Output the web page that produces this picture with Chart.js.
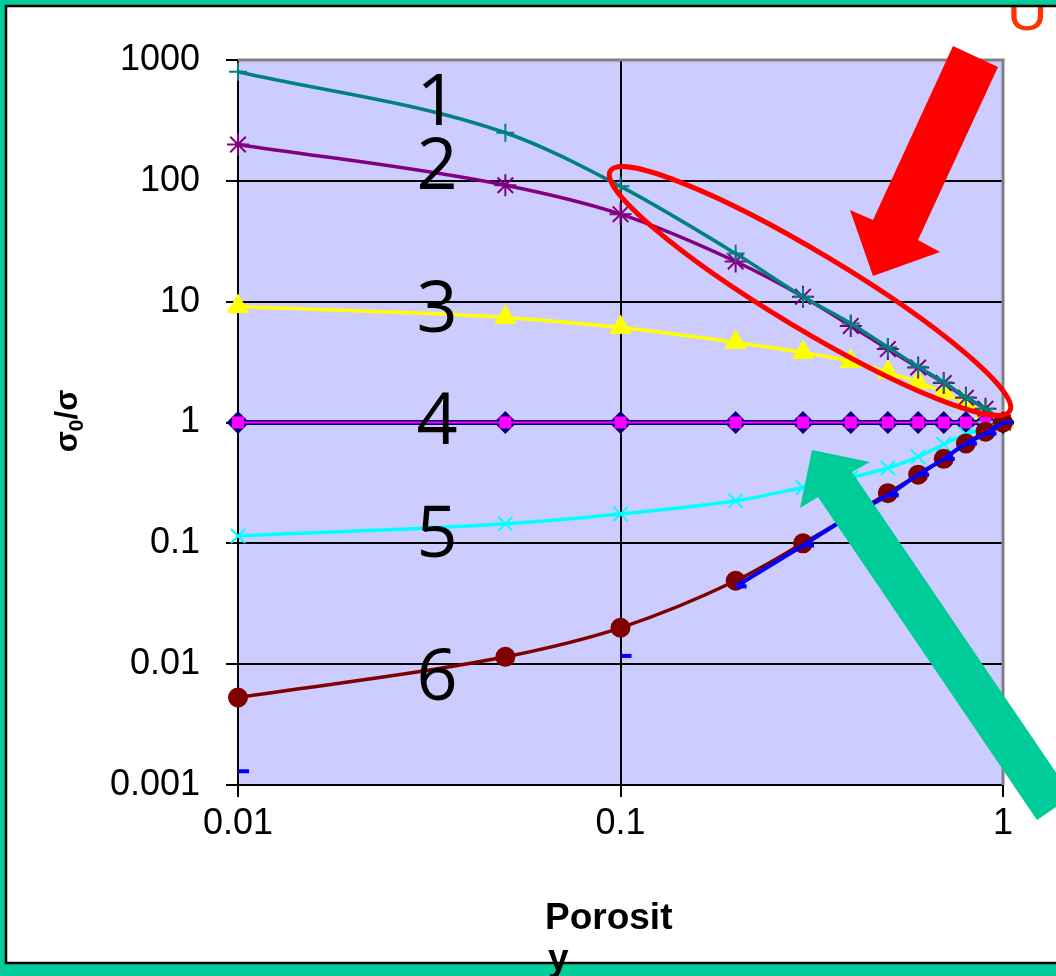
<!DOCTYPE html>
<html>
<head>
<meta charset="utf-8">
<script src="https://cdn.jsdelivr.net/npm/chart.js@4.4.1/dist/chart.umd.min.js"></script>
<style>
  html, body { margin: 0; padding: 0; background: #00CC99; }
  canvas { display: block; }
</style>
</head>
<body>
<canvas id="porosityChart" width="1056" height="976"></canvas>
<script>
// values
const porosity = [0.01, 0.05, 0.1, 0.2, 0.3, 0.4, 0.5, 0.6, 0.7, 0.8, 0.9, 1.0];
const curve1 = [800, 250, 90, 25, 11, 6.6, 4.2, 2.9, 2.15, 1.62, 1.3, 1];
const curve2 = [200, 92, 53, 21.5, 11, 6.3, 4.05, 2.85, 2.12, 1.6, 1.3, 1];
const curve3 = [9.1, 7.4, 6.1, 4.6, 3.8, 3.2, 2.6, 2.15, 1.77, 1.45, 1.2, 1];
const curve4a = [1, 1, 1, 1, 1, 1, 1, 1, 1, 1, 1, 1];
const curve4b = [1, 1, 1, 1, 1, 1, 1, 1, 1, 1, 1, 1];
const curve5 = [0.115, 0.145, 0.175, 0.225, 0.29, 0.35, 0.42, 0.52, 0.66, 0.8, 0.9, 1];
const curve6 = [0.0053, 0.0115, 0.02, 0.049, 0.1, 0.17, 0.26, 0.37, 0.5, 0.67, 0.84, 1];
const curve7 = [0.0013, null, 0.0117, 0.044, 0.096, 0.17, 0.25, 0.37, 0.5, 0.67, 0.81, 1];

const xTicks = [0.01, 0.1, 1];
const yTicks = [0.001, 0.01, 0.1, 1, 10, 100, 1000];
const curveLabels = ['1', '2', '3', '4', '5', '6'];

const tickFont = { family: '"Liberation Sans", Arial, sans-serif', size: 36 };

function pts(arr) {
    return porosity.map((x, i) => ({ x: x, y: arr[i] }));
}

function series(arr, color, style, radius, opts) {
    return Object.assign({
        data: pts(arr),
        borderColor: color,
        backgroundColor: color,
        pointStyle: style,
        pointRadius: radius,
        pointBorderColor: color,
        pointBackgroundColor: color,
        pointBorderWidth: 2,
        borderWidth: 3.5,
        cubicInterpolationMode: 'monotone',
        spanGaps: false,
        clip: false
    }, opts || {});
}

function polygon(ctx, points, color) {
    ctx.beginPath();
    ctx.moveTo(points[0][0], points[0][1]);
    for (let i = 1; i < points.length; i++) ctx.lineTo(points[i][0], points[i][1]);
    ctx.closePath();
    ctx.fillStyle = color;
    ctx.fill();
}

const slidePlugin = {
    id: 'slide',
    beforeDraw(chart) {
        const ctx = chart.ctx;
        const a = chart.chartArea;
        ctx.save();
        ctx.fillStyle = '#00CC99';
        ctx.fillRect(0, 0, chart.width, chart.height);
        ctx.fillStyle = '#FFFFFF';
        ctx.fillRect(6, 6, chart.width, 957);
        // clipped letter at the top right corner
        ctx.save();
        ctx.beginPath();
        ctx.rect(6, 6, chart.width, 957);
        ctx.clip();
        ctx.fillStyle = '#FF3300';
        ctx.font = '56px "Liberation Sans", Arial, sans-serif';
        ctx.textAlign = 'left';
        ctx.textBaseline = 'alphabetic';
        ctx.fillText('U', 1007, 30);
        ctx.restore();
        ctx.strokeStyle = '#000000';
        ctx.lineWidth = 2.5;
        ctx.strokeRect(6, 6, chart.width + 10, 957);
        ctx.fillStyle = '#CCCCFF';
        ctx.fillRect(a.left, a.top, a.right - a.left, a.bottom - a.top);
        ctx.restore();
    },
    beforeDatasetsDraw(chart) {
        const ctx = chart.ctx;
        const a = chart.chartArea;
        ctx.save();
        ctx.strokeStyle = '#808080';
        ctx.lineWidth = 3;
        ctx.beginPath();
        ctx.moveTo(a.left, a.top);
        ctx.lineTo(a.right, a.top);
        ctx.lineTo(a.right, a.bottom);
        ctx.stroke();
        ctx.restore();
    },
    afterDraw(chart) {
        const ctx = chart.ctx;
        ctx.save();

        // curve numbers
        ctx.fillStyle = '#000000';
        ctx.font = '72px "Open Sans", "Noto Sans", sans-serif';
        ctx.textAlign = 'center';
        ctx.textBaseline = 'alphabetic';
        const baselines = [125, 189, 332, 444, 557, 700];
        curveLabels.forEach((t, i) => ctx.fillText(t, 437, baselines[i]));

        // red ellipse
        ctx.strokeStyle = '#FF0000';
        ctx.lineWidth = 5;
        ctx.beginPath();
        ctx.ellipse(810, 291, 233, 38, 31 * Math.PI / 180, 0, Math.PI * 2);
        ctx.stroke();

        // red arrow
        polygon(ctx, [[953, 46], [998, 67], [918, 240], [940, 252], [873, 276], [850, 210], [873, 220]], '#FF0000');

        // green arrow
        polygon(ctx, [[812, 450], [870, 462], [852, 472], [1072, 796], [1037, 820], [818, 497], [800, 508]], '#00CC99');

        // y axis title  σ0/σ
        ctx.fillStyle = '#000000';
        ctx.save();
        ctx.translate(77, 421);
        ctx.rotate(-Math.PI / 2);
        ctx.textAlign = 'left';
        ctx.textBaseline = 'alphabetic';
        const big = 'bold 31px "Liberation Sans", Arial, sans-serif';
        const small = 'bold 21px "Liberation Sans", Arial, sans-serif';
        ctx.font = big;
        const w1 = ctx.measureText('σ').width;
        ctx.font = small;
        const w2 = ctx.measureText('0').width;
        ctx.font = big;
        const w3 = ctx.measureText('/σ').width;
        let x0 = -(w1 + w2 + w3) / 2;
        ctx.fillText('σ', x0, 0);
        ctx.font = small;
        ctx.fillText('0', x0 + w1, 6);
        ctx.font = big;
        ctx.fillText('/σ', x0 + w1 + w2, 0);
        ctx.restore();

        // x axis title, wrapped as in the original
        ctx.fillStyle = '#000000';
        ctx.font = 'bold 37px "Liberation Sans", Arial, sans-serif';
        ctx.textAlign = 'left';
        ctx.fillText('Porosit', 545, 929);
        ctx.fillText('y', 548, 970);

        ctx.restore();
    }
};

const ctx = document.getElementById('porosityChart').getContext('2d');
new Chart(ctx, {
    type: 'line',
    data: {
        datasets: [
            series(curve7, '#0000FF', 'dash', 11, {
                order: 0, borderWidth: 4, pointBorderWidth: 4,
                segment: { borderColor: c => c.p0DataIndex === 2 ? 'rgba(0,0,0,0)' : undefined }
            }),
            series(curve6, '#800000', 'circle', 9, { order: 1 }),
            series(curve5, '#00FFFF', 'crossRot', 10, { order: 2 }),
            series(curve4b, '#FF00FF', 'rect', 7, { order: 3, borderWidth: 2 }),
            series(curve4a, '#000080', 'rectRot', 10, { order: 4, borderWidth: 5 }),
            series(curve1, '#008080', 'cross', 9, { order: 5 }),
            series(curve2, '#800080', 'star', 11, { order: 6 }),
            series(curve3, '#FFFF00', 'triangle', 11, { order: 7 })
        ]
    },
    options: {
        responsive: false,
        animation: false,
        layout: { padding: { top: 60, right: 53, left: 0, bottom: 0 } },
        plugins: {
            legend: { display: false },
            tooltip: { enabled: false }
        },
        scales: {
            x: {
                type: 'logarithmic',
                min: 0.01,
                max: 1,
                afterBuildTicks: scale => { scale.ticks = xTicks.map(v => ({ value: v })); },
                afterFit: scale => { scale.height = 191; },
                ticks: {
                    callback: v => String(v),
                    font: tickFont,
                    color: '#000000',
                    maxRotation: 0,
                    autoSkip: false,
                    padding: 5
                },
                grid: { color: '#000000', lineWidth: 2, tickLength: 12 },
                border: { color: '#000000', width: 2 }
            },
            y: {
                type: 'logarithmic',
                min: 0.001,
                max: 1000,
                afterBuildTicks: scale => { scale.ticks = yTicks.map(v => ({ value: v })); },
                afterFit: scale => { scale.width = 238; },
                ticks: {
                    callback: v => String(v),
                    font: tickFont,
                    color: '#000000',
                    autoSkip: false,
                    padding: 26
                },
                grid: { color: '#000000', lineWidth: 2, tickLength: 12 },
                border: { color: '#000000', width: 2 }
            }
        }
    },
    plugins: [slidePlugin]
});
</script>
</body>
</html>
